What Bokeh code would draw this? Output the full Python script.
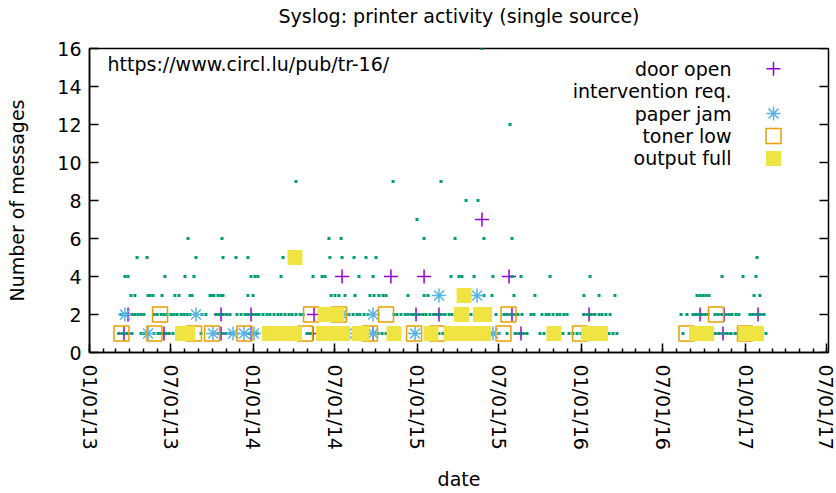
import math
from datetime import datetime, timedelta
from bokeh.plotting import figure
from bokeh.models import Range1d, FixedTicker, DatetimeTickFormatter
from bokeh.embed import file_html
from bokeh.resources import INLINE
from bokeh.core.properties import value

FONT = "DejaVu Sans"
FS = "19px"

TITLE = "Syslog: printer activity (single source)"
X_LABEL = "date"
Y_LABEL = "Number of messages"
NOTE = "https://www.circl.lu/pub/tr-16/"

x_tick_dates = ["2013-01-01", "2013-07-01", "2014-01-01", "2014-07-01", "2015-01-01",
                "2015-07-01", "2016-01-01", "2016-07-01", "2017-01-01", "2017-07-01"]
y_ticks = [0, 2, 4, 6, 8, 10, 12, 14, 16]

series_names = ["door open", "intervention req.", "paper jam", "toner low", "output full"]
series_colors = ["#9400d3", "#009e73", "#56b4e9", "#e69f00", "#f0e442"]

# ---- data: x in decimal years, y = number of messages ----
door_open_x = [2013.210, 2013.454, 2013.802, 2013.985, 2014.363, 2014.540, 2014.729, 2015.631, 2016.863, 2016.973,
               2013.235, 2013.802, 2013.985, 2014.369, 2014.540, 2014.991, 2015.131, 2015.576, 2016.046, 2016.723, 2016.869, 2017.076,
               2014.540, 2014.838, 2015.040, 2015.558,
               2015.393]
door_open_y = [1, 1, 1, 1, 1, 1, 1, 1, 1, 1,
               2, 2, 2, 2, 2, 2, 2, 2, 2, 2, 2, 2,
               4, 4, 4, 4,
               7]

paper_jam_x = [2013.357, 2013.753, 2013.875, 2013.942, 2014.003, 2014.570, 2014.729, 2014.985, 2015.460,
               2013.216, 2013.649, 2014.540, 2014.729,
               2015.131, 2015.363]
paper_jam_y = [1, 1, 1, 1, 1, 1, 1, 1, 1,
               2, 2, 2, 2,
               3, 3]

toner_low_x = [2013.195, 2013.396, 2013.637, 2013.747, 2013.945, 2014.314, 2014.710, 2014.979, 2015.119, 2015.524, 2015.991, 2016.640, 2016.997,
               2013.430, 2014.351, 2014.521, 2014.808, 2015.555, 2016.820]
toner_low_y = [1, 1, 1, 1, 1, 1, 1, 1, 1, 1, 1, 1, 1,
               2, 2, 2, 2, 2, 2]

output_full_x = [2013.567, 2013.598, 2014.098, 2014.128, 2014.159, 2014.189, 2014.220, 2014.250, 2014.427, 2014.454,
                 2014.485, 2014.512, 2014.543, 2014.646, 2014.659, 2014.857, 2015.082, 2015.207, 2015.235, 2015.265,
                 2015.296, 2015.326, 2015.357, 2015.378, 2015.402, 2015.832, 2016.043, 2016.070, 2016.095, 2016.116,
                 2016.701, 2016.732, 2016.762, 2017.000, 2017.021, 2017.046, 2017.067,
                 2014.439, 2014.473, 2014.506, 2015.268, 2015.384, 2015.409,
                 2015.284,
                 2014.253]
output_full_y = [1] * 37 + [2] * 6 + [3] + [5]

# intervention req. : one list of dates per message count
iv_16 = [2015.393]
iv_12 = [2015.564]
iv_9 = [2014.259, 2014.851, 2015.143]
iv_8 = [2015.296, 2015.369]
iv_7 = [2014.997]
iv_6 = [2013.601, 2013.808, 2014.460, 2014.534, 2015.040, 2015.229, 2015.405, 2015.576]
iv_5 = [2013.290, 2013.351, 2013.649, 2013.814, 2013.893, 2013.966, 2014.180, 2014.466, 2014.540, 2014.613,
        2014.686, 2014.747, 2017.070]
iv_4 = [2013.216, 2013.235, 2013.460, 2013.582, 2013.637, 2013.985, 2014.009, 2014.027, 2014.168, 2014.363,
        2014.418, 2014.436, 2014.643, 2014.729, 2015.204, 2015.253, 2015.271, 2015.345, 2015.460, 2015.576,
        2015.631, 2015.808, 2016.052, 2016.857, 2016.985, 2017.064]
iv_3 = [2013.253, 2013.277, 2013.357, 2013.369, 2013.387, 2013.442, 2013.521, 2013.546, 2013.613, 2013.625,
        2013.735, 2013.747, 2013.759, 2013.784, 2013.802, 2013.814, 2013.966, 2013.997, 2014.473, 2014.497,
        2014.521, 2014.558, 2014.619, 2014.710, 2014.735, 2014.765, 2014.790, 2014.808, 2014.942, 2015.040,
        2015.064, 2015.405, 2015.454, 2015.588, 2015.716, 2016.015, 2016.107, 2016.204, 2016.704, 2016.723,
        2016.741, 2016.759, 2016.777, 2017.052, 2017.088]
iv_2 = [2013.192, 2013.259, 2013.277, 2013.296, 2013.314, 2013.332,
        2013.393, 2013.412, 2013.436, 2013.454, 2013.473, 2013.497, 2013.515, 2013.534, 2013.558, 2013.576, 2013.595, 2013.613,
        2013.686, 2013.710,
        2013.771, 2013.790, 2013.814, 2013.838, 2013.857,
        2013.899, 2013.924, 2013.948, 2013.966, 2013.991, 2014.015, 2014.034, 2014.058, 2014.082, 2014.101,
        2014.125, 2014.149, 2014.168, 2014.192, 2014.216, 2014.235, 2014.259, 2014.284, 2014.302,
        2014.582, 2014.607, 2014.631, 2014.649, 2014.674, 2014.698,
        2014.857, 2014.875, 2014.899, 2014.924, 2014.942, 2014.966, 2014.985, 2015.009, 2015.034, 2015.052,
        2015.076, 2015.101, 2015.119, 2015.143, 2015.168, 2015.192, 2015.210,
        2015.326, 2015.479,
        2015.527, 2015.546, 2015.570, 2015.595, 2015.613, 2015.637,
        2015.692, 2015.710,
        2015.759, 2015.784, 2015.802, 2015.826, 2015.851, 2015.869, 2015.893, 2015.912,
        2016.015, 2016.040, 2016.058, 2016.082, 2016.107, 2016.125, 2016.149, 2016.174,
        2016.607, 2016.643,
        2016.680, 2016.698, 2016.716, 2016.735, 2016.753, 2016.771,
        2016.814, 2016.832, 2016.857, 2016.875, 2016.899, 2016.918, 2016.942, 2016.960,
        2017.027, 2017.046, 2017.070, 2017.088, 2017.113]
iv_1 = [2013.180, 2013.204, 2013.229, 2013.259, 2013.314, 2013.332, 2013.393, 2013.418, 2013.436, 2013.466,
        2013.485, 2013.509, 2013.680, 2013.784, 2013.808, 2013.832, 2013.857, 2013.948, 2013.973, 2013.997,
        2014.021, 2014.326, 2014.345, 2014.552, 2014.735, 2014.759, 2014.784, 2014.808, 2015.131, 2015.155,
        2015.497, 2015.546, 2015.595, 2015.619, 2015.643, 2015.668, 2015.747, 2015.771, 2015.887, 2015.924,
        2015.948, 2015.973, 2015.997, 2016.168, 2016.192, 2016.216, 2016.619, 2016.814, 2016.838, 2016.863,
        2016.887, 2016.912, 2016.936, 2016.954, 2017.125]


def to_dt(yr):
    return datetime(2013, 1, 1) + timedelta(days=(yr - 2013.0) * 365.25)


def ms(d):
    return (d - datetime(1970, 1, 1)).total_seconds() * 1000.0


iv_rows = [(16, iv_16), (12, iv_12), (9, iv_9), (8, iv_8), (7, iv_7), (6, iv_6), (5, iv_5),
           (4, iv_4), (3, iv_3), (2, iv_2), (1, iv_1)]
iv_x, iv_y = [], []
for cnt, lst in iv_rows:
    for t in lst:
        iv_x.append(to_dt(t))
        iv_y.append(cnt)

FW, FH = 739, 304
p = figure(frame_width=FW, frame_height=FH, output_backend="svg", toolbar_location=None,
           x_axis_type="datetime",
           x_range=Range1d(to_dt(2013.0), to_dt(2017.506)), y_range=Range1d(0, 16),
           min_border_left=89, min_border_right=8, min_border_top=48, min_border_bottom=141)

p.background_fill_color = "white"
p.border_fill_color = "white"
p.outline_line_color = "black"
p.outline_line_width = 1.5
p.xgrid.visible = False
p.ygrid.visible = False

# title block: the (empty) second line keeps the title near the top edge, as in the original
p.title.text = TITLE + "\n"
p.title.align = "center"
p.title.vertical_align = "bottom"
p.title.standoff = 0
p.title.text_line_height = 1.0
p.title.text_font = FONT
p.title.text_font_size = FS
p.title.text_font_style = "normal"
p.title.text_color = "black"

xa = p.below[0]
ya = p.left[0]

xa.ticker = FixedTicker(ticks=[ms(datetime.strptime(d, "%Y-%m-%d")) for d in x_tick_dates],
                        minor_ticks=[ms(datetime(2013 + m // 12, m % 12 + 1, 1)) for m in range(0, 55)])
fmt = "%m/%d/%y"
xa.formatter = DatetimeTickFormatter(microseconds=fmt, milliseconds=fmt, seconds=fmt, minsec=fmt,
                                     minutes=fmt, hourmin=fmt, hours=fmt, days=fmt, months=fmt, years=fmt)
xa.major_label_orientation = -math.pi / 2
xa.major_label_standoff = 12
xa.axis_label = X_LABEL
xa.axis_label_standoff = 15

ya.ticker = FixedTicker(ticks=y_ticks)
ya.major_label_standoff = 8
ya.axis_label = Y_LABEL
ya.axis_label_standoff = 26

for ax in [xa, ya]:
    ax.axis_line_color = "black"
    ax.axis_line_width = 1.5
    ax.major_tick_line_color = "black"
    ax.major_tick_line_width = 1.5
    ax.minor_tick_line_color = "black"
    ax.minor_tick_line_width = 1.5
    ax.major_tick_in = 9
    ax.major_tick_out = 0
    ax.minor_tick_in = 4
    ax.minor_tick_out = 0
    ax.major_label_text_font = FONT
    ax.major_label_text_font_size = FS
    ax.major_label_text_color = "black"
    ax.axis_label_text_font = FONT
    ax.axis_label_text_font_style = "normal"
    ax.axis_label_text_font_size = FS
    ax.axis_label_text_color = "black"
ya.minor_tick_in = 0

# frame pixel coordinates for decorations (key, note, right-side ticks)
p.extra_x_ranges = {"fx": Range1d(0, FW)}
p.extra_y_ranges = {"fy": Range1d(0, FH)}

# mirrored y ticks on the right edge of the frame
p.segment(x0=[FW] * len(y_ticks), x1=[FW - 9] * len(y_ticks), y0=y_ticks, y1=y_ticks,
          x_range_name="fx", line_color="black", line_width=1.5)

# ---- data marks ----
p.scatter([to_dt(t) for t in door_open_x], door_open_y, marker="cross", size=14,
          line_color=series_colors[0], line_width=1.5)
p.scatter(iv_x, iv_y, marker="square", size=3, fill_color=series_colors[1], line_color=None)
p.scatter([to_dt(t) for t in paper_jam_x], paper_jam_y, marker="asterisk", size=14,
          line_color=series_colors[2], line_width=1.5)
p.scatter([to_dt(t) for t in toner_low_x], toner_low_y, marker="square", size=15,
          fill_color=None, line_color=series_colors[3], line_width=1.5)
p.scatter([to_dt(t) for t in output_full_x], output_full_y, marker="square", size=15,
          fill_color=series_colors[4], line_color=None)

# ---- key (text right-aligned, sample at right) ----
key_rows = [283.7, 261.3, 238.9, 216.5, 194.1]
key_text_x = 642
key_mark_x = 684
p.text(x=[key_text_x] * 5, y=key_rows, text=series_names, x_range_name="fx", y_range_name="fy",
       text_align="right", text_baseline="middle", text_font=value(FONT), text_font_size=FS,
       text_color="black")
p.scatter([key_mark_x], [key_rows[0]], marker="cross", size=14, line_color=series_colors[0],
          line_width=1.5, x_range_name="fx", y_range_name="fy")
p.scatter([key_mark_x], [key_rows[2]], marker="asterisk", size=14, line_color=series_colors[2],
          line_width=1.5, x_range_name="fx", y_range_name="fy")
p.scatter([key_mark_x], [key_rows[3]], marker="square", size=15, fill_color=None,
          line_color=series_colors[3], line_width=1.5, x_range_name="fx", y_range_name="fy")
p.scatter([key_mark_x], [key_rows[4]], marker="square", size=15, fill_color=series_colors[4],
          line_color=None, x_range_name="fx", y_range_name="fy")

p.text(x=[18], y=[289], text=[NOTE], x_range_name="fx", y_range_name="fy",
       text_align="left", text_baseline="middle", text_font=value(FONT), text_font_size=FS,
       text_color="black")

open("out.html", "w").write(file_html(p, INLINE))
